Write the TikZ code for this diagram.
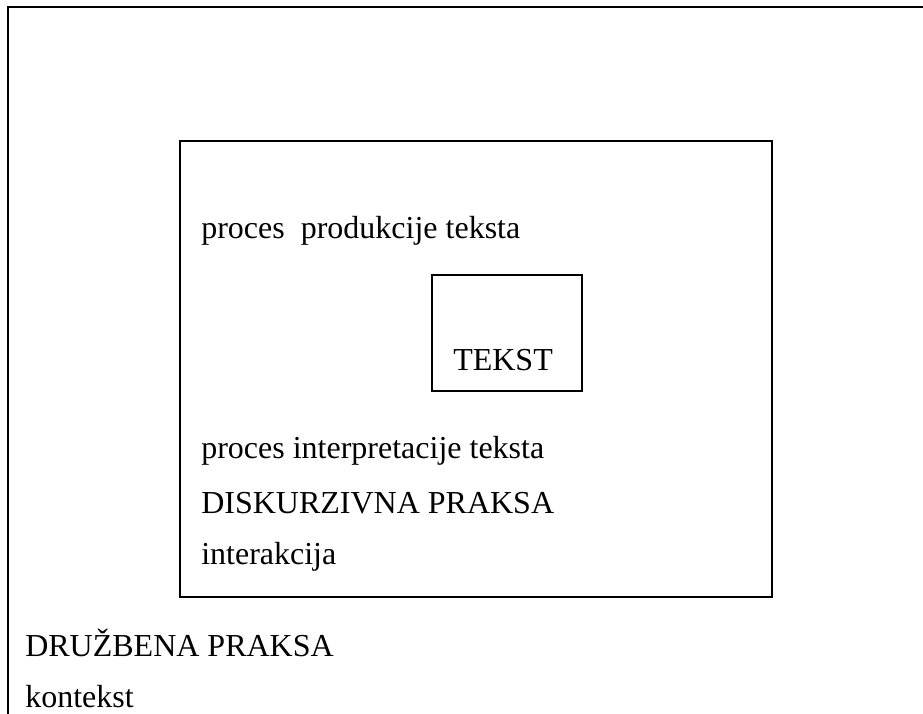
\documentclass[tikz,border=0pt]{standalone}
\usepackage{fontspec}
\setmainfont{Liberation Serif}
\usepackage{tikz}
\usetikzlibrary{positioning}

\tikzset{
  boxline/.style={draw, line width=1.3pt},
  txt/.style={anchor=base west, inner sep=0pt, font=\fontsize{24}{28}\selectfont}
}

\begin{document}
\begin{tikzpicture}[x=0.75pt, y=-0.75pt]
\clip (0,0) rectangle (923,713);

\draw[boxline] (8,7) rectangle (960,740);
\draw[boxline] (180,141) rectangle (772,597);
\draw[boxline] (432,275) rectangle (582,391);

\node[txt] (produkcija) at (201,238) {proces\ \ produkcije teksta};
\node[txt] (tekst) at (453,370) {TEKST};
\node[txt] (interpretacija) at (201,458) {proces interpretacije teksta};
\node[txt] (diskurz) at (201,513) {DISKURZIVNA PRAKSA};
\node[txt] (interakcija) at (201,564) {interakcija};

\node[txt] (druzbena) at (25,656) {DRUŽBENA PRAKSA};
\node[txt] (kontekst) at (25,707) {kontekst};

\end{tikzpicture}
\end{document}
